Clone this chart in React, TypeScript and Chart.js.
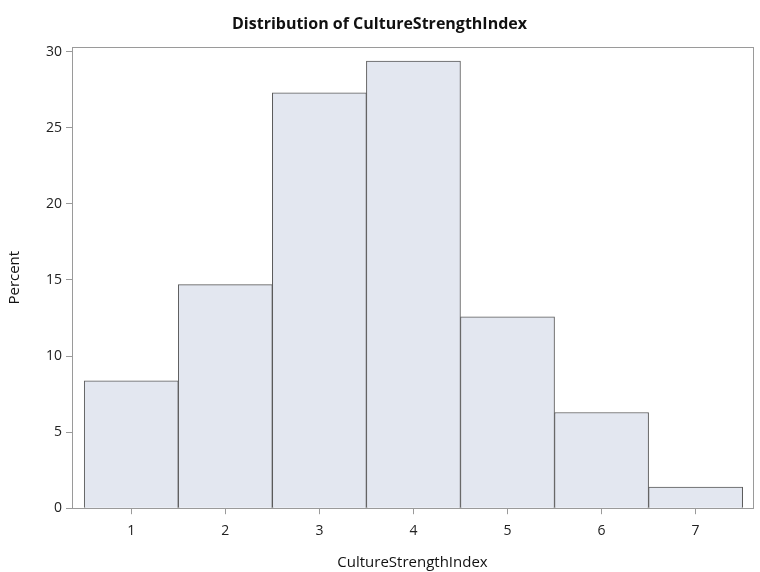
import React, { useEffect, useRef } from "react";
import { Chart, registerables } from "chart.js";

Chart.register(...registerables);

const binCenters = [1, 2, 3, 4, 5, 6, 7];
const percents = [8.37, 14.69, 27.3, 29.39, 12.58, 6.29, 1.38];
const yTicks = [0, 5, 10, 15, 20, 25, 30];
const titleText = "Distribution of CultureStrengthIndex";
const xTitle = "CultureStrengthIndex";
const yTitle = "Percent";

const FONT = "'Open Sans', 'DejaVu Sans', sans-serif";

const frame = {
  id: "frame",
  afterDraw(chart: any) {
    const { ctx, chartArea } = chart;
    ctx.save();
    ctx.strokeStyle = "#9a9a9a";
    ctx.lineWidth = 1;
    ctx.strokeRect(
      Math.round(chartArea.left) + 0.5,
      Math.round(chartArea.top) + 0.5,
      Math.round(chartArea.right - chartArea.left),
      Math.round(chartArea.bottom - chartArea.top)
    );
    ctx.restore();
  },
};

export default function App() {
  const ref = useRef<HTMLCanvasElement>(null);
  useEffect(() => {
    document.body.style.margin = "0";
    const chart = new Chart(ref.current!, {
      type: "bar",
      data: {
        datasets: [
          {
            data: binCenters.map((x, i) => ({ x, y: percents[i] })),
            backgroundColor: "#E3E7F0",
            borderColor: "#5a5a5a",
            borderWidth: 1,
            barPercentage: 1,
            categoryPercentage: 1,
            grouped: false,
          } as any,
        ],
      },
      options: {
        animation: false,
        responsive: false,
        layout: { padding: { left: 6, right: 7, top: 0, bottom: 0 } },
        plugins: {
          legend: { display: false },
          tooltip: { enabled: false },
          title: {
            display: true,
            text: titleText,
            color: "#111",
            font: { family: FONT, size: 16, weight: "bold" },
            padding: { top: 15, bottom: 13 },
          },
        },
        scales: {
          x: {
            type: "linear",
            min: 0.37,
            max: 7.61,
            offset: false,
            grid: { offset: false, drawOnChartArea: false, drawTicks: true, tickLength: 6, color: "#9a9a9a" },
            border: { display: true, color: "#9a9a9a" },
            ticks: {
              stepSize: 1,
              includeBounds: false,
              color: "#222",
              font: { family: FONT, size: 14 },
              padding: 8,
            },
            title: {
              display: true,
              text: xTitle,
              color: "#111",
              font: { family: FONT, size: 15 },
              padding: { top: 7, bottom: 0 },
            },
          },
          y: {
            min: 0,
            max: 30.3,
            afterBuildTicks: (axis: any) => {
              axis.ticks = yTicks.map((v) => ({ value: v }));
            },
            afterFit: (axis: any) => {
              axis.width = 66;
            },
            grid: { drawOnChartArea: false, drawTicks: true, tickLength: 6, color: "#9a9a9a" },
            border: { display: true, color: "#9a9a9a" },
            ticks: {
              color: "#222",
              font: { family: FONT, size: 14 },
              padding: 4,
            },
            title: {
              display: true,
              text: yTitle,
              color: "#111",
              font: { family: FONT, size: 15 },
              padding: { top: 0, bottom: 4 },
            },
          },
        },
      },
      plugins: [frame],
    });
    return () => chart.destroy();
  }, []);
  return (
    <div style={{ position: "fixed", left: 0, top: 0, width: 760, height: 572, background: "#fff" }}>
      <canvas ref={ref} width={760} height={572} />
    </div>
  );
}
